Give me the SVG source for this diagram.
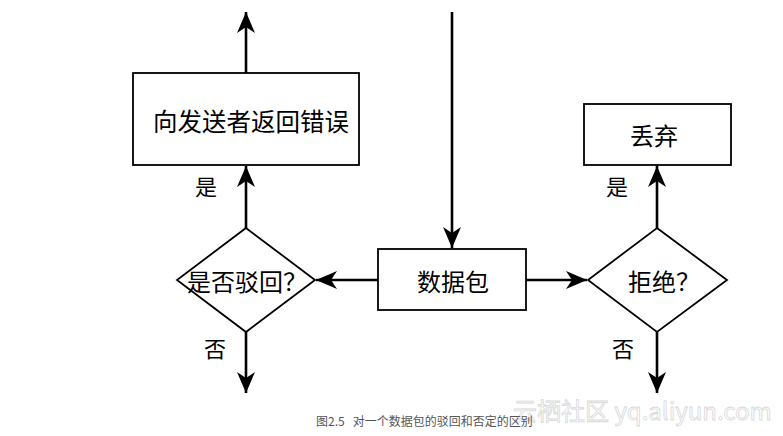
<svg xmlns="http://www.w3.org/2000/svg" width="783" height="436" viewBox="0 0 783 436">
<style>
.box{fill:#fff;stroke:#000;stroke-width:1.8}
.ln{fill:none;stroke:#000;stroke-width:2.6}
.t{font-family:"Noto Sans CJK SC","Liberation Sans",sans-serif;font-size:24px;fill:#000;text-anchor:middle;dominant-baseline:central}
.lbl{font-family:"Noto Sans CJK SC","Liberation Sans",sans-serif;font-size:22px;fill:#000;text-anchor:middle;dominant-baseline:central}
.cap{font-family:"Noto Sans CJK SC","Liberation Sans",sans-serif;font-size:12px;fill:#555;white-space:pre}
.wm{font-family:"Noto Sans CJK SC","Liberation Sans",sans-serif;font-size:24px;fill:#fff;stroke:#d8d8d8;stroke-width:0.8}
</style>
<defs>
<marker id="ah" markerUnits="userSpaceOnUse" markerWidth="24" markerHeight="22" viewBox="-22 -11 24 22" refX="0" refY="0" orient="auto">
<path d="M0,0 L-21,-9 L-15,0 L-21,9 Z" fill="#000"/>
</marker>
</defs>
<rect width="783" height="436" fill="#fff"/>
<g id="connectors">
<line class="ln" x1="246" y1="73" x2="246" y2="12" marker-end="url(#ah)"/>
<line class="ln" x1="246" y1="228" x2="246" y2="166" marker-end="url(#ah)"/>
<line class="ln" x1="246" y1="332" x2="246" y2="393" marker-end="url(#ah)"/>
<line class="ln" x1="452" y1="12" x2="452" y2="248" marker-end="url(#ah)"/>
<line class="ln" x1="378" y1="280" x2="316" y2="280" marker-end="url(#ah)"/>
<line class="ln" x1="526" y1="280" x2="587" y2="280" marker-end="url(#ah)"/>
<line class="ln" x1="657" y1="228" x2="657" y2="166" marker-end="url(#ah)"/>
<line class="ln" x1="657" y1="332" x2="657" y2="393" marker-end="url(#ah)"/>
</g>
<g id="n-error">
<rect class="box" x="133" y="73" width="226" height="92"/>
<text class="t" x="251" y="120" style="font-size:24.5px">向发送者返回错误</text>
</g>
<g id="n-reject-q">
<polygon class="box" points="246,228 315,280 246,332 177,280"/>
<text class="t" x="247" y="280">是否驳回？</text>
</g>
<g id="n-packet">
<rect class="box" x="378" y="249" width="148" height="61"/>
<text class="t" x="453" y="280">数据包</text>
</g>
<g id="n-refuse-q">
<polygon class="box" points="657,228 727,280 657,332 588,280"/>
<text class="t" x="664" y="280">拒绝？</text>
</g>
<g id="n-discard">
<rect class="box" x="584" y="104" width="147" height="61"/>
<text class="t" x="654" y="134">丢弃</text>
</g>
<g id="labels">
<text class="lbl" x="206" y="185">是</text>
<text class="lbl" x="215" y="347">否</text>
<text class="lbl" x="617" y="185">是</text>
<text class="lbl" x="623" y="347">否</text>
</g>
<text class="wm" x="513" y="420">云栖社区 yq.aliyun.com</text>
<text class="cap" x="316" y="426" xml:space="preserve">图2.5   对一个数据包的驳回和否定的区别</text>
</svg>
